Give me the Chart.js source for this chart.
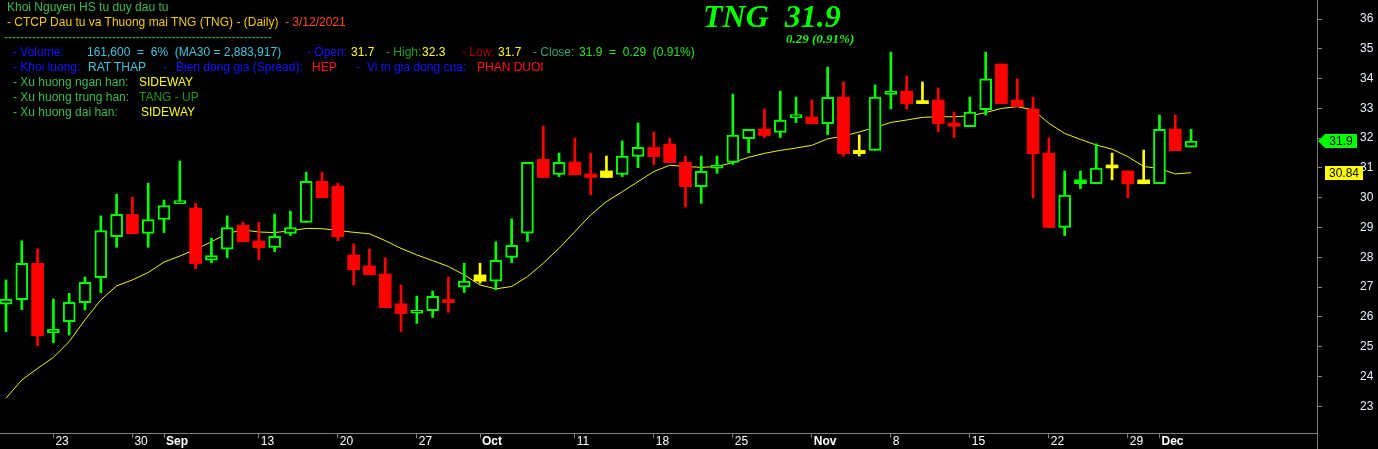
<!DOCTYPE html>
<html>
<head>
<meta charset="utf-8">
<script src="https://cdn.jsdelivr.net/npm/chart.js@4.4.1/dist/chart.umd.min.js"></script>
<style>
html,body{margin:0;padding:0;background:#000;overflow:hidden}
#wrap{position:relative;width:1378px;height:449px;background:#000}
#c{position:absolute;left:0;top:0}
.t{position:absolute;font:12px "Liberation Sans",Arial,sans-serif;line-height:15px;white-space:pre}
.ttl{position:absolute;left:703px;top:0;font:italic bold 32px "Liberation Serif","Times New Roman",serif;line-height:32px;color:#00ff00;white-space:pre}
.sub{position:absolute;left:786px;top:31px;font:italic bold 13px "Liberation Serif","Times New Roman",serif;line-height:15px;color:#22ee22;white-space:pre}
</style>
</head>
<body>
<div id="wrap">
<canvas id="c" width="1378" height="449"></canvas>

<div class="t" style="left:7px;top:0;color:#3cbc50">Khoi Nguyen HS tu duy dau tu</div>
<div class="t" style="left:7px;top:15px;color:#f5c800">- CTCP Dau tu va Thuong mai TNG (TNG) - (Daily)</div>
<div class="t" style="left:285px;top:15px;color:#ff4a1a">- 3/12/2021</div>
<div class="t" style="left:4px;top:30px;color:#3cbc50">-------------------------------------------------------------------</div>

<div class="t" style="left:13px;top:45px;color:#1414ff">- Volume:</div>
<div class="t" style="left:87px;top:45px;color:#40c4e0">161,600  =  6%  (MA30 = 2,883,917)</div>
<div class="t" style="left:307px;top:45px;color:#1414ff">- Open:</div>
<div class="t" style="left:351px;top:45px;color:#ffff00">31.7</div>
<div class="t" style="left:386px;top:45px;color:#1fa01f">- High:</div>
<div class="t" style="left:422px;top:45px;color:#ffff00">32.3</div>
<div class="t" style="left:462px;top:45px;color:#a80000">- Low:</div>
<div class="t" style="left:498px;top:45px;color:#ffff00">31.7</div>
<div class="t" style="left:533px;top:45px;color:#3aa57a">- Close:</div>
<div class="t" style="left:579px;top:45px;color:#2ae62a">31.9  =  0.29  (0.91%)</div>

<div class="t" style="left:13px;top:60px;color:#1414ff">- Khoi luong:</div>
<div class="t" style="left:88px;top:60px;color:#40c4e0">RAT THAP</div>
<div class="t" style="left:163px;top:60px;color:#1414ff">-</div>
<div class="t" style="left:176px;top:60px;color:#1414ff">Bien dong gia (Spread):</div>
<div class="t" style="left:312px;top:60px;color:#ff1414">HEP</div>
<div class="t" style="left:356px;top:60px;color:#1414ff">-</div>
<div class="t" style="left:367px;top:60px;color:#1414ff">Vi tri gia dong cua:</div>
<div class="t" style="left:477px;top:60px;color:#ff1414">PHAN DUOI</div>

<div class="t" style="left:13px;top:75px;color:#3cbc50">- Xu huong ngan han:</div>
<div class="t" style="left:139px;top:75px;color:#ffff00">SIDEWAY</div>
<div class="t" style="left:13px;top:90px;color:#3cbc50">- Xu huong trung han:</div>
<div class="t" style="left:139px;top:90px;color:#1e9a1e">TANG - UP</div>
<div class="t" style="left:13px;top:105px;color:#3cbc50">- Xu huong dai han:</div>
<div class="t" style="left:141px;top:105px;color:#ffff00">SIDEWAY</div>

<div class="ttl">TNG  31.9</div>
<div class="sub">0.29 (0.91%)</div>
</div>

<script>
// daily candles, 18 Aug -> 3 Dec 2021 (index = trading day)
const opens=[26.43,26.58,27.80,25.47,25.84,26.48,27.32,28.69,29.44,28.80,
  29.27,29.80,29.65,27.90,28.27,29.08,28.55,28.33,28.80,29.17,
  30.55,30.39,28.08,27.71,27.44,26.44,26.12,26.21,26.50,27.00,
  27.41,27.20,28.00,28.81,31.29,30.78,31.20,30.80,30.90,30.78,
  31.39,31.69,31.80,31.19,30.37,30.99,31.19,31.98,32.31,32.19,
  32.69,32.71,32.49,33.38,31.59,31.59,33.47,33.58,33.16,33.28,
  32.51,32.39,32.96,34.49,33.28,32.98,31.50,29.00,30.60,30.47,
  31.10,30.90,30.60,30.47,32.31,31.70];
const highs=[27.24,28.55,28.28,26.60,26.79,27.34,29.39,30.12,30.02,30.49,
  29.92,31.23,29.81,28.64,29.39,29.18,29.18,29.45,29.55,30.86,
  30.86,30.49,28.45,28.28,27.98,27.07,26.70,26.87,27.34,27.80,
  27.80,28.52,29.29,31.19,32.41,31.50,32.00,31.50,31.40,31.91,
  32.51,32.21,32.00,31.40,31.40,31.40,33.48,32.30,32.98,33.58,
  33.38,33.28,34.39,33.89,32.11,33.79,34.89,34.09,33.89,33.69,
  32.88,33.38,34.89,34.49,33.99,33.38,32.01,30.90,30.90,31.81,
  31.50,30.90,31.60,32.78,32.78,32.30];
const lows=[25.50,26.24,25.03,25.13,25.39,26.23,26.81,28.34,28.79,28.34,
  28.83,29.80,27.61,27.82,27.99,28.52,27.92,28.19,28.73,29.17,
  30.00,28.56,27.07,27.41,26.31,25.51,25.78,25.98,26.15,26.82,
  27.13,26.91,27.82,28.53,30.68,30.71,30.77,30.10,30.68,30.71,
  31.01,31.11,31.18,29.69,29.81,30.82,31.12,31.51,32.02,32.02,
  32.52,32.49,32.12,31.40,31.40,31.59,32.98,32.98,33.16,32.22,
  32.02,32.39,32.78,33.16,33.06,30.00,29.00,28.73,30.30,30.47,
  30.60,30.00,30.47,30.47,31.58,31.70];
const closes=[26.60,27.80,25.37,25.58,26.49,27.16,28.90,29.44,28.79,29.27,
  29.74,29.82,27.79,28.06,29.00,28.52,28.32,28.70,29.00,30.55,
  30.00,28.69,27.58,27.41,26.31,26.11,26.23,26.69,26.48,27.20,
  27.20,27.90,28.40,31.19,30.68,31.19,30.77,30.68,30.68,31.40,
  31.69,31.38,31.18,30.37,30.89,31.09,32.10,32.30,32.09,32.61,
  32.71,32.49,33.37,31.48,31.48,33.38,33.58,33.16,33.16,32.49,
  32.40,32.88,33.99,33.16,33.06,31.48,29.00,30.09,30.47,31.00,
  31.00,30.47,30.47,32.30,31.58,31.90];
// moving average line
const ma20=[23.27,23.88,24.27,24.64,25.17,25.90,26.57,27.04,27.24,27.49,
  27.84,28.04,28.27,28.52,28.80,28.92,28.85,28.83,28.89,28.97,
  28.96,28.90,28.84,28.79,28.56,28.30,28.08,27.89,27.69,27.41,
  27.07,26.94,27.02,27.35,27.80,28.30,28.86,29.42,29.87,30.20,
  30.54,30.88,31.09,31.05,31.02,31.05,31.18,31.36,31.49,31.59,
  31.67,31.76,31.98,32.07,32.21,32.36,32.53,32.61,32.70,32.72,
  32.72,32.75,32.86,33.00,33.06,32.95,32.50,32.16,31.96,31.77,
  31.63,31.38,31.05,30.98,30.80,30.84];
// date axis: tick at candle index -> label
const tickPos=[3,8,10,16,21,26,30,36,41,46,51,56,61,66,71,73];
const tickText=["23","30","Sep","13","20","27","Oct","11","18","25","Nov","8","15","22","29","Dec"];

const UP="#00ff00",DOWN="#ff0000",FLAT="#ffff00",AXIS="#808080";
const idx=closes.map((_,i)=>i);
// colour vs previous close, filled body when close <= open
const colors=closes.map((c,i)=>{
  if(i===0) return UP;
  const d=c-closes[i-1];
  return d>0.001?UP:(d<-0.001?DOWN:FLAT);
});
const filled=closes.map((c,i)=>c<=opens[i]);

const tagPlugin={
  id:"tags",
  afterDraw(chart){
    const {ctx,chartArea}=chart, y=chart.scales.y, r=chartArea.right;
    ctx.save();
    // price axis line runs down through the date strip
    ctx.strokeStyle=AXIS; ctx.lineWidth=1;
    ctx.beginPath(); ctx.moveTo(r+0.5,chartArea.bottom); ctx.lineTo(r+0.5,chart.height); ctx.stroke();
    const last=closes.length-1;
    const yc=Math.round(y.getPixelForValue(closes[last]));
    ctx.fillStyle=UP;
    ctx.beginPath();
    ctx.moveTo(r+1,yc); ctx.lineTo(r+8,yc-7); ctx.lineTo(r+40,yc-7); ctx.lineTo(r+40,yc+7); ctx.lineTo(r+8,yc+7);
    ctx.closePath(); ctx.fill();
    ctx.fillStyle="#000"; ctx.font='12px "Liberation Sans",Arial,sans-serif';
    ctx.textAlign="center"; ctx.textBaseline="middle";
    ctx.fillText(closes[last].toFixed(1),r+24,yc+1);
    const ym=Math.round(y.getPixelForValue(ma20[last]));
    ctx.fillStyle=FLAT; ctx.fillRect(r+8,ym-7,38,14);
    ctx.fillStyle="#000"; ctx.fillText(ma20[last].toFixed(2),r+27,ym+1);
    ctx.restore();
  }
};

new Chart(document.getElementById("c"),{
  type:"bar",
  data:{datasets:[
    {label:"body",data:idx.map(i=>({x:i,y:[opens[i],closes[i]]})),
     backgroundColor:idx.map(i=>filled[i]?colors[i]:"#000"),borderColor:colors,
     borderWidth:idx.map(i=>filled[i]?0:2),borderSkipped:false,
     barThickness:12,minBarLength:3,grouped:false,order:0},
    {label:"wick",data:idx.map(i=>({x:i,y:[lows[i],highs[i]]})),
     backgroundColor:colors,barThickness:2,grouped:false,order:1},
    {type:"line",label:"MA",data:idx.map(i=>({x:i,y:ma20[i]})),
     borderColor:"#f2f200",borderWidth:1,pointRadius:0,tension:0,order:2}
  ]},
  options:{
    responsive:false,animation:false,
    layout:{padding:0},
    plugins:{legend:{display:false},tooltip:{enabled:false}},
    scales:{
      x:{type:"linear",min:-0.38,max:82.97,offset:false,
        afterBuildTicks:s=>{s.ticks=tickPos.map(v=>({value:v}));},
        afterFit:s=>{s.height=16; s.paddingLeft=0; s.paddingRight=0;},
        grid:{drawOnChartArea:false,drawTicks:true,tickLength:5,color:AXIS,offset:false},
        border:{color:AXIS},
        ticks:{autoSkip:false,maxRotation:0,align:"start",labelOffset:2,padding:-4,color:"#ffffff",
          callback:v=>tickText[tickPos.indexOf(v)],
          font:ctx=>{
            const t=tickText[tickPos.indexOf(ctx.tick&&ctx.tick.value)]||"";
            return {family:'"Liberation Sans",Arial,sans-serif',size:12,weight:/^\d/.test(t)?"normal":"bold"};
          }}
      },
      y:{position:"right",min:22.1,max:36.64,
        // label gap is wide, keep it from shrinking the plot vertically
        afterFit:s=>{s.width=61; s.paddingTop=0; s.paddingBottom=0;},
        grid:{drawOnChartArea:false,tickLength:5,color:AXIS},
        border:{color:AXIS},
        ticks:{stepSize:1,includeBounds:false,padding:38,color:"#e8eeff",
          font:{family:'"Liberation Sans",Arial,sans-serif',size:12}}
      }
    }
  },
  plugins:[tagPlugin]
});
</script>
</body>
</html>
